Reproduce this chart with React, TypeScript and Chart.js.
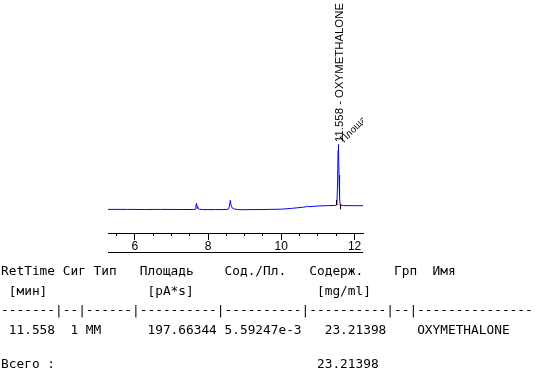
import React, { useEffect, useRef } from "react";
import { Chart, registerables } from "chart.js";

Chart.register(...registerables);

// ---- chromatogram trace (retention time in min, detector signal in pA) ----
const retTimes = [
  5.27, 5.8, 6.3, 6.7, 7.2, 7.6, 7.65, 7.67, 7.685, 7.7, 7.72, 7.76, 7.85,
  8.2, 8.5, 8.56, 8.59, 8.61, 8.63, 8.66, 8.72, 8.8, 8.9, 9.5, 10.0, 10.3,
  10.6, 10.7, 10.72, 10.75, 11.0, 11.3, 11.47, 11.5, 11.52, 11.535, 11.55,
  11.558, 11.565, 11.575, 11.59, 11.605, 11.62, 11.7, 12.0, 12.23,
];
const signal = [
  20.1, 20.1, 20.0, 20.1, 20.0, 20.0, 20.2, 23.5, 26.2, 23.0, 21.2, 20.3, 19.9,
  19.9, 20.0, 20.5, 24.5, 29.2, 24.0, 21.7, 20.5, 20.0, 19.8, 20.0, 20.3, 21.2,
  22.3, 22.9, 23.3, 22.8, 23.5, 23.9, 24.1, 24.5, 28.5, 44.5, 79.5,
  85.0, 79.5, 54.5, 31.5, 25.5, 24.2, 23.9, 23.8, 23.8,
];

// axis
const xMin = 5.27;
const xMax = 12.23;
const minorStep = 0.5;
const labelStep = 2;
const yMin = -3.5;
const yMax = 229.5;

// peak annotation
const peakTime = 11.558;
const peakName = "OXYMETHALONE";
const peakStart = 11.505;
const peakEnd = 11.62;
const areaLabel = "Площадь: 197.663";

// ---- report table ----
const headerRow = "RetTime Сиг Тип   Площадь    Сод./Пл.   Содерж.    Грп  Имя";
const unitsRow = " [мин]             [pA*s]                [mg/ml]";
const dividerRow = "-------|--|------|----------|----------|----------|--|---------------";
const dataRow = " 11.558  1 MM      197.66344 5.59247e-3   23.21398    OXYMETHALONE";
const totalRow = "Всего :                                  23.21398";
const tableRows = [headerRow, unitsRow, dividerRow, dataRow];

const rowTops = [265.2, 284.5, 304, 323.9];
const totalTop = 357.9;

function valueAt(t: number): number {
  const i = retTimes.indexOf(t);
  return signal[i];
}
function interp(t: number): number {
  for (let i = 0; i < retTimes.length - 1; i++) {
    if (t >= retTimes[i] && t <= retTimes[i + 1]) {
      const f = (t - retTimes[i]) / (retTimes[i + 1] - retTimes[i]);
      return signal[i] + f * (signal[i + 1] - signal[i]);
    }
  }
  return signal[signal.length - 1];
}

const align = (p: number) => Math.round(p - 0.5) + 0.5;

const overlayPlugin = {
  id: "overlay",
  afterDatasetsDraw(chart: any) {
    const { ctx, chartArea } = chart;
    const x = chart.scales.x;
    const y = chart.scales.y;
    ctx.save();
    ctx.strokeStyle = "#000";
    ctx.lineWidth = 1;
    // major ticks
    for (let v = Math.ceil(xMin / labelStep) * labelStep; v <= xMax; v += labelStep) {
      const px = align(x.getPixelForValue(v));
      ctx.beginPath();
      ctx.moveTo(px, chartArea.bottom);
      ctx.lineTo(px, chartArea.bottom + 7);
      ctx.stroke();
    }
    // lower rule under labels
    const ry = align(chartArea.bottom + 19);
    ctx.beginPath();
    ctx.moveTo(chartArea.left, ry);
    ctx.lineTo(chartArea.right, ry);
    ctx.stroke();

    // integration baseline + markers
    const sx = x.getPixelForValue(peakStart);
    const ex = x.getPixelForValue(peakEnd);
    const sy = y.getPixelForValue(interp(peakStart));
    const ey = y.getPixelForValue(interp(peakEnd));
    ctx.strokeStyle = "#ff66cc";
    ctx.beginPath();
    ctx.moveTo(sx, sy);
    ctx.lineTo(ex, ey);
    ctx.stroke();
    ctx.strokeStyle = "#000";
    ctx.beginPath();
    ctx.moveTo(align(sx), sy - 4);
    ctx.lineTo(align(sx), sy + 1);
    ctx.moveTo(align(ex), ey - 1);
    ctx.lineTo(align(ex), ey + 4);
    ctx.stroke();

    // peak labels
    const apx = x.getPixelForValue(peakTime);
    const apy = y.getPixelForValue(valueAt(peakTime));
    ctx.fillStyle = "#000";
    ctx.font = '11.4px "Liberation Sans", Arial, sans-serif';
    ctx.textAlign = "left";
    ctx.textBaseline = "alphabetic";
    ctx.save();
    ctx.translate(apx + 4.8, apy - 2.5);
    ctx.rotate(-Math.PI / 2);
    ctx.fillText(`${peakTime.toFixed(3)} - ${peakName}`, 0, 0);
    ctx.restore();

    ctx.save();
    ctx.beginPath();
    ctx.rect(0, 0, chartArea.right, chart.height);
    ctx.clip();
    ctx.font = '10px "Liberation Sans", Arial, sans-serif';
    ctx.translate(apx + 5.5, apy - 1.5);
    ctx.rotate(-Math.PI / 4);
    ctx.fillText(areaLabel, 0, 0);
    ctx.restore();

    ctx.restore();
  },
};

export default function App() {
  const canvasRef = useRef<HTMLCanvasElement | null>(null);

  useEffect(() => {
    if (!canvasRef.current) return;
    const chart = new Chart(canvasRef.current, {
      type: "line",
      data: {
        datasets: [
          {
            data: retTimes.map((t, i) => ({ x: t, y: signal[i] })),
            borderColor: "#0000ff",
            borderWidth: 1,
            pointRadius: 0,
            tension: 0,
            fill: false,
          },
        ],
      },
      options: {
        animation: false,
        responsive: false,
        devicePixelRatio: 1,
        layout: { padding: { left: 108, right: 176, top: 0, bottom: 127 } },
        plugins: { legend: { display: false }, tooltip: { enabled: false } },
        scales: {
          x: {
            type: "linear",
            min: xMin,
            max: xMax,
            afterFit: (scale: any) => {
              scale.height = 20;
            },
            grid: {
              drawOnChartArea: false,
              drawTicks: true,
              tickLength: 3,
              tickColor: "#000",
            },
            border: { display: true, color: "#000", width: 1 },
            ticks: {
              stepSize: minorStep,
              includeBounds: false,
              autoSkip: false,
              maxRotation: 0,
              padding: 3,
              color: "#000",
              font: { family: '"Liberation Sans", Arial, sans-serif', size: 12 },
              callback: (v: any) => (Number(v) % labelStep === 0 ? String(v) : ""),
            },
          },
          y: {
            type: "linear",
            display: false,
            min: yMin,
            max: yMax,
          },
        },
      },
      plugins: [overlayPlugin],
    });
    return () => chart.destroy();
  }, []);

  const mono: React.CSSProperties = {
    position: "absolute",
    left: 1.1,
    margin: 0,
    fontFamily: '"DejaVu Sans Mono", monospace',
    fontSize: "12.8px",
    lineHeight: "12.8px",
    whiteSpace: "pre",
    color: "#000",
  };

  return (
    <div style={{ position: "absolute", left: 0, top: 0, width: 539, height: 380, background: "#fff" }}>
      <canvas
        ref={canvasRef}
        width={539}
        height={380}
        style={{ position: "absolute", left: 0, top: 0, width: 539, height: 380 }}
      />
      {tableRows.map((row, i) => (
        <div key={i} style={{ ...mono, top: rowTops[i] }}>
          {row}
        </div>
      ))}
      <div style={{ ...mono, top: totalTop }}>{totalRow}</div>
    </div>
  );
}
